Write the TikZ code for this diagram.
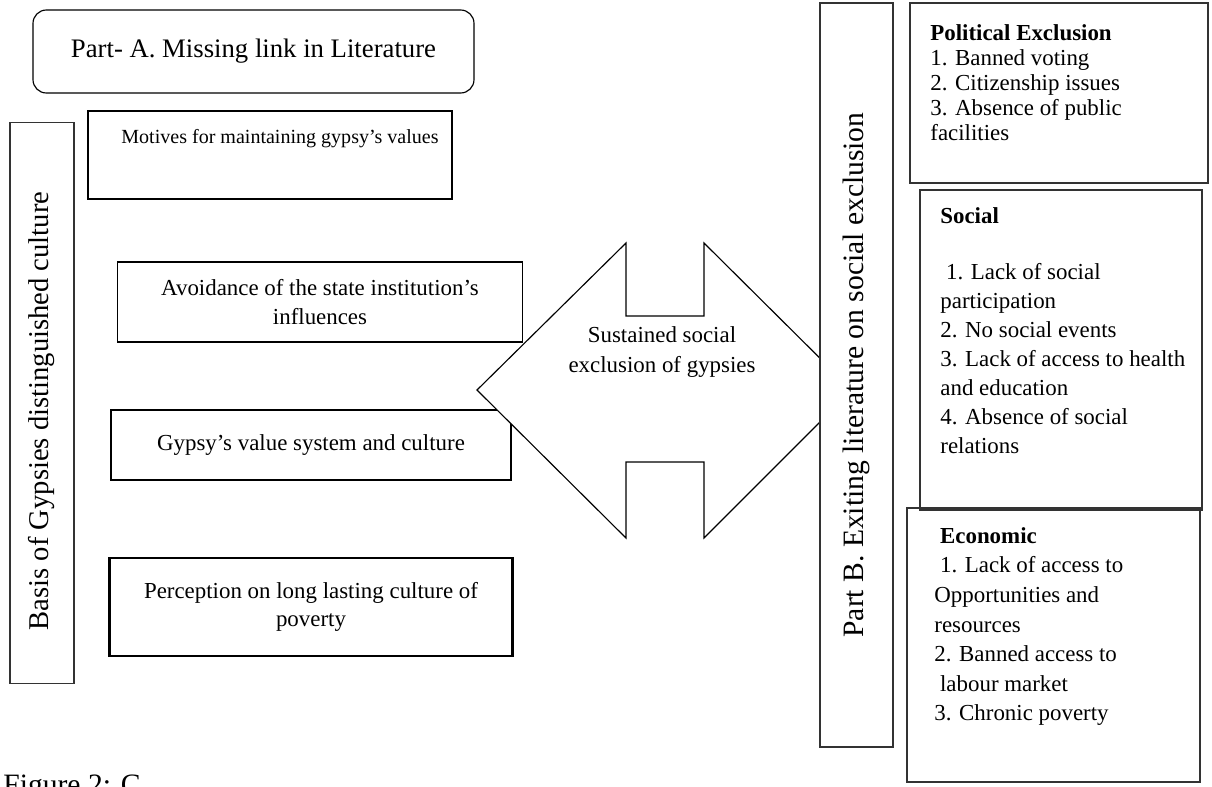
\documentclass[tikz,border=0pt]{standalone}
\usepackage{fontspec}
\setmainfont{Liberation Serif}
\newcommand{\pxu}{0.524pt}
\tikzset{
  linkbox/.style={draw, line width=0.9pt, inner sep=0pt, align=center,
                  font=\fontsize{12}{15}\selectfont},
  sidebar/.style={draw=black!80, line width=0.6pt, fill=white, inner sep=0pt},
  sidetext/.style={rotate=90, inner sep=0pt, font=\fontsize{15}{18}\selectfont},
  panel/.style={draw=black!80, line width=0.6pt, inner sep=0pt},
  paneltext/.style={anchor=north west, align=left, inner sep=0pt,
                    font=\fontsize{12}{15.2}\selectfont},
}

\begin{document}
\begin{tikzpicture}[x=\pxu, y=-\pxu]
    \useasboundingbox (0,0) rectangle (1212,786);
    % part A
    \node[draw, rounded corners=7pt, line width=0.6pt, minimum width=441*\pxu,
          minimum height=83*\pxu, font=\fontsize{14}{17}\selectfont] (parta) at (253.5,51.5)
          {Part- A. Missing link in Literature};
    \node[sidebar, minimum width=64*\pxu, minimum height=561*\pxu] (basis) at (42,403) {};
    \node[sidetext] (basistxt) at ([yshift=-8*\pxu]basis.center) {Basis of Gypsies distinguished culture};
    \node[linkbox, line width=1pt, minimum width=364*\pxu, minimum height=88*\pxu] (motive) at (270,155) {};
    \node[font=\fontsize{10.5}{13}\selectfont] (motivetxt) at (280,139) {Motives for maintaining gypsy’s values};
    \node[linkbox, minimum width=405*\pxu, minimum height=80*\pxu] (avoid) at (320,302)
          {Avoidance of the state institution’s\\influences};
    \node[linkbox, line width=1.1pt, minimum width=400*\pxu, minimum height=70*\pxu] (value) at (311,445)
          {Gypsy’s value system and culture};
    \node[linkbox, line width=1.1pt, minimum width=403*\pxu, minimum height=98*\pxu] (poverty) at (311,607)
          {Perception on long lasting culture of\\poverty};
    % double arrow
    \draw[line width=0.6pt, fill=white] (477,390) -- (626,243) -- (626,316) -- (704,316)
          -- (704,243) -- (852,390) -- (704,538) -- (704,462) -- (626,462) -- (626,538) -- cycle;
    \node[align=center, font=\fontsize{12}{15.5}\selectfont] (sustain) at (662,352)
          {Sustained social\\exclusion of gypsies};
    % part B
    \node[sidebar, minimum width=73*\pxu, minimum height=744*\pxu] (partb) at (856.5,375) {};
    \node[sidetext, font=\fontsize{15.5}{18}\selectfont] (partbtxt) at (partb.center)
          {Part B. Exiting literature on social exclusion};
    \node[panel, minimum width=298*\pxu, minimum height=180*\pxu] (polit) at (1059,93) {};
    \node[paneltext, font=\fontsize{12}{13.1}\selectfont] (polittxt) at (930,24)
          {\textbf{Political Exclusion}\\1. Banned voting\\2. Citizenship issues\\3. Absence of public\\facilities};
    \node[panel, minimum width=282*\pxu, minimum height=320*\pxu] (social) at (1061,350) {};
    \node[paneltext] (socialtxt) at (940,207)
          {\textbf{Social}\\[14pt]\ 1. Lack of social\\participation\\2. No social events\\3. Lack of access to health\\and education\\4. Absence of social\\relations};
    \node[panel, minimum width=293*\pxu, minimum height=274*\pxu] (econ) at (1053.5,645) {};
    \node[paneltext, font=\fontsize{12}{15.5}\selectfont] (econtxt) at (934,527)
          {\ \textbf{Economic}\\\ 1. Lack of access to\\Opportunities and\\resources\\2. Banned access to\\\ labour market\\3. Chronic poverty};
    % caption, cut by the page edge
    \node[anchor=north west, inner sep=0pt, font=\fontsize{15.5}{18}\selectfont] (caption) at (3,775)
          {Figure 2: C};
\end{tikzpicture}
\end{document}
